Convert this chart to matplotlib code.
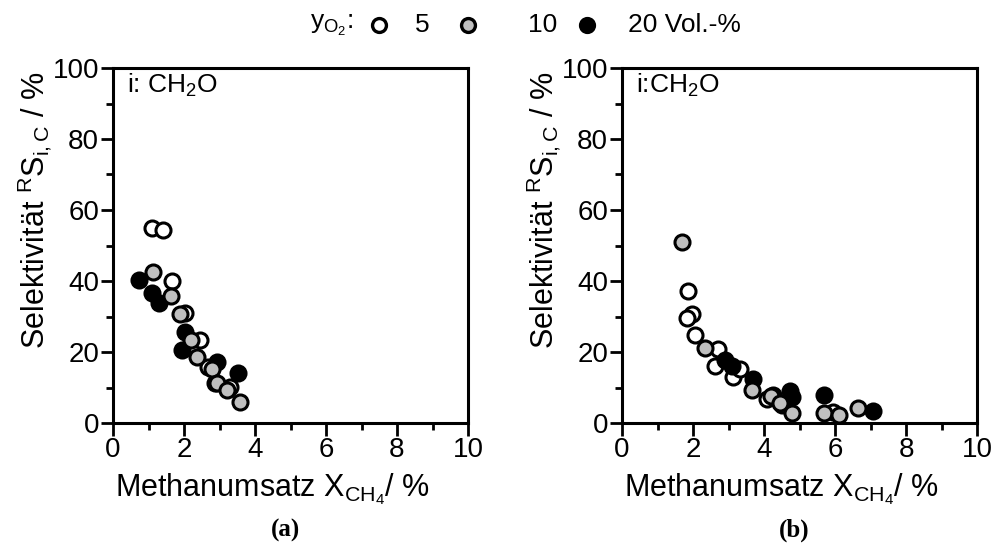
import numpy as np
import matplotlib
matplotlib.use("Agg")
import matplotlib.pyplot as plt
from matplotlib.lines import Line2D
from matplotlib.ticker import MultipleLocator

plt.rcParams['font.family'] = ['Liberation Sans', 'DejaVu Sans']
plt.rcParams['mathtext.fontset'] = 'custom'
plt.rcParams['mathtext.rm'] = 'Liberation Sans'
plt.rcParams['mathtext.it'] = 'Liberation Sans:italic'

# (a) Selektivitaet CH2O ueber Methanumsatz, je O2-Anteil
a_x5 = [1.10, 1.41, 1.66, 2.03, 2.45, 2.68, 2.87, 3.30]
a_y5 = [55.0, 54.4, 40.0, 31.0, 23.4, 15.8, 11.3, 10.2]
a_x10 = [1.13, 1.63, 1.89, 2.20, 2.36, 2.78, 2.92, 3.20, 3.58]
a_y10 = [42.5, 35.8, 30.7, 23.4, 18.7, 15.2, 11.3, 9.3, 6.0]
a_x20 = [0.73, 1.10, 1.30, 2.03, 1.94, 2.93, 3.52]
a_y20 = [40.3, 36.6, 33.8, 25.6, 20.6, 17.2, 14.1]

# (b)
b_x5 = [1.86, 1.96, 1.83, 2.06, 2.70, 2.62, 3.13, 3.32, 4.08, 4.50, 5.94]
b_y5 = [37.2, 30.7, 29.6, 24.8, 20.8, 16.1, 13.0, 15.2, 6.9, 5.1, 3.2]
b_x10 = [1.68, 2.34, 3.65, 4.20, 4.45, 4.78, 5.69, 6.11, 6.65]
b_y10 = [51.1, 21.2, 9.3, 7.5, 5.5, 2.8, 2.8, 2.3, 4.2]
b_x20 = [2.90, 3.09, 3.69, 4.26, 4.73, 4.78, 5.69, 7.07]
b_y20 = [17.7, 16.1, 12.4, 7.9, 9.1, 7.4, 7.9, 3.5]

panels = [
    ("i: CH$_2$O", (a_x5, a_y5), (a_x10, a_y10), (a_x20, a_y20), "(a)"),
    ("i:CH$_2$O", (b_x5, b_y5), (b_x10, b_y10), (b_x20, b_y20), "(b)"),
]
lefts = [113 / 994, 622 / 994]

fig = plt.figure(figsize=(9.94, 5.55), dpi=100)

for left, (tag, s5, s10, s20, cap) in zip(lefts, panels):
    ax = fig.add_axes([left, 132 / 555, 355 / 994, 355 / 555])
    kw = dict(s=117, linewidths=2.2, edgecolors='black', clip_on=False, zorder=3)
    ax.scatter(s5[0], s5[1], facecolors='white', **kw)
    ax.scatter(s20[0], s20[1], facecolors='black', **kw)
    ax.scatter(s10[0], s10[1], facecolors='#bfbfbf', **kw)
    ax.set_xlim(0, 10)
    ax.set_ylim(0, 100)
    ax.xaxis.set_major_locator(MultipleLocator(2))
    ax.xaxis.set_minor_locator(MultipleLocator(1))
    ax.yaxis.set_major_locator(MultipleLocator(20))
    ax.yaxis.set_minor_locator(MultipleLocator(10))
    ax.tick_params(which='both', direction='out', width=2, labelsize=20, pad=1)
    ax.tick_params(which='major', length=9)
    ax.tick_params(which='minor', length=5)
    for sp in ax.spines.values():
        sp.set_linewidth(2.2)
    ax.set_xlabel("Methanumsatz X$_\\mathregular{CH_4}$/ %", fontsize=22)
    ax.xaxis.set_label_coords(0.45, -0.135)
    ax.set_ylabel("Selektivität $^\\mathregular{R}$S$_\\mathregular{i,C}$ / %", fontsize=22)
    ax.yaxis.set_label_coords(-0.165, 0.6)
    ax.text(0.04, 0.95, tag, transform=ax.transAxes, fontsize=19, va='center', ha='left')
    fig.text(left + 0.5 * 355 / 994 - 0.005, 25 / 555, cap, fontsize=18, fontweight='bold',
             family='Liberation Serif', ha='center', va='center')

# Legende oben
ly = 1 - 25 / 555
fig.text(310 / 994, ly, "y$_\\mathregular{O_2}$:", fontsize=19, va='center', ha='left')
for mx, fc in [(379, 'white'), (468, '#bfbfbf'), (587, 'black')]:
    fig.add_artist(Line2D([mx / 994], [ly], transform=fig.transFigure, marker='o', ms=10,
                          mew=2.4, mfc=fc, mec='black', ls='none'))
fig.text(422 / 994, ly, "5", fontsize=19, va='center', ha='center')
fig.text(543 / 994, ly, "10", fontsize=19, va='center', ha='center')
fig.text(628 / 994, ly, "20 Vol.-%", fontsize=19, va='center', ha='left')

fig.savefig("out.png", dpi=100)
